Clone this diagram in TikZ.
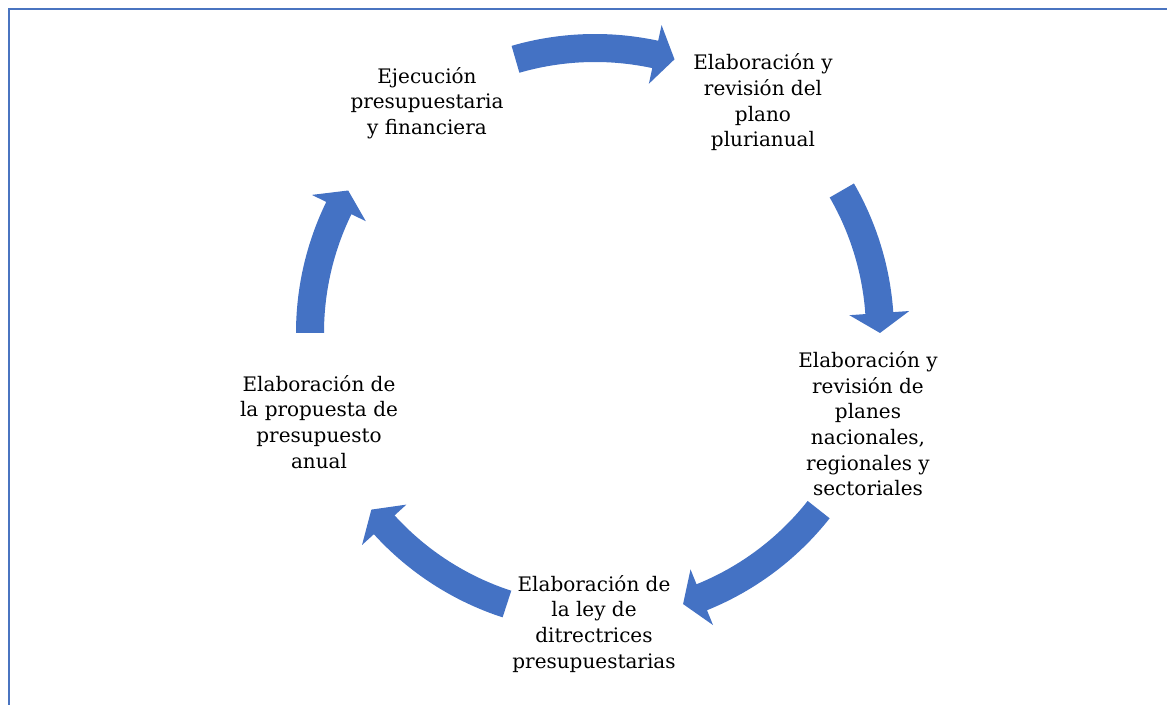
\documentclass[tikz,border=0pt]{standalone}
\usepackage{fontspec}
\setmainfont{DejaVu Serif}
\definecolor{cycleblue}{HTML}{4472C4}
\definecolor{framecol}{HTML}{4A74C0}
\newcommand{\cyclearrow}[2]{%
  \fill[cycleblue] (#1:299) arc[start angle=#1, end angle=#2+4, radius=299]
    -- ({#2+4}:315) -- (#2:285) -- ({#2+4}:255) -- ({#2+4}:271)
    arc[start angle=#2+4, end angle=#1, radius=271] -- cycle;}

\begin{document}
\begin{tikzpicture}[x=0.75pt,y=0.75pt,
  stage/.style={align=center,anchor=base,inner sep=0pt,font=\fontsize{15}{19.3}\selectfont}]
  \useasboundingbox (0,0) rectangle (1167,705);
  \draw[framecol,line width=1.5] (8.5,0) -- (8.5,695.5) -- (1167,695.5);

  \node[stage] (plano)     at (763,558)   {Elaboración y\\revisión del\\plano\\plurianual};
  \node[stage] (planes)    at (868,209)   {Elaboración y\\revisión de\\planes\\nacionales,\\regionales y\\sectoriales};
  \node[stage] (ley)       at (594,36.7)  {Elaboración de\\la ley de\\ditrectrices\\presupuestarias};
  \node[stage] (propuesta) at (319,236.7) {Elaboración de\\la propuesta de\\presupuesto\\anual};
  \node[stage] (ejecucion) at (427,570.3) {Ejecución\\presupuestaria\\y financiera};

  % arrows round the cycle
  \begin{scope}[shift={(595,372)}]
    \cyclearrow{106.2}{73.8}
    \cyclearrow{30}{0}
    \cyclearrow{-38.3}{-72}
    \cyclearrow{-108}{-141.7}
    \cyclearrow{180}{150}
  \end{scope}
\end{tikzpicture}
\end{document}
